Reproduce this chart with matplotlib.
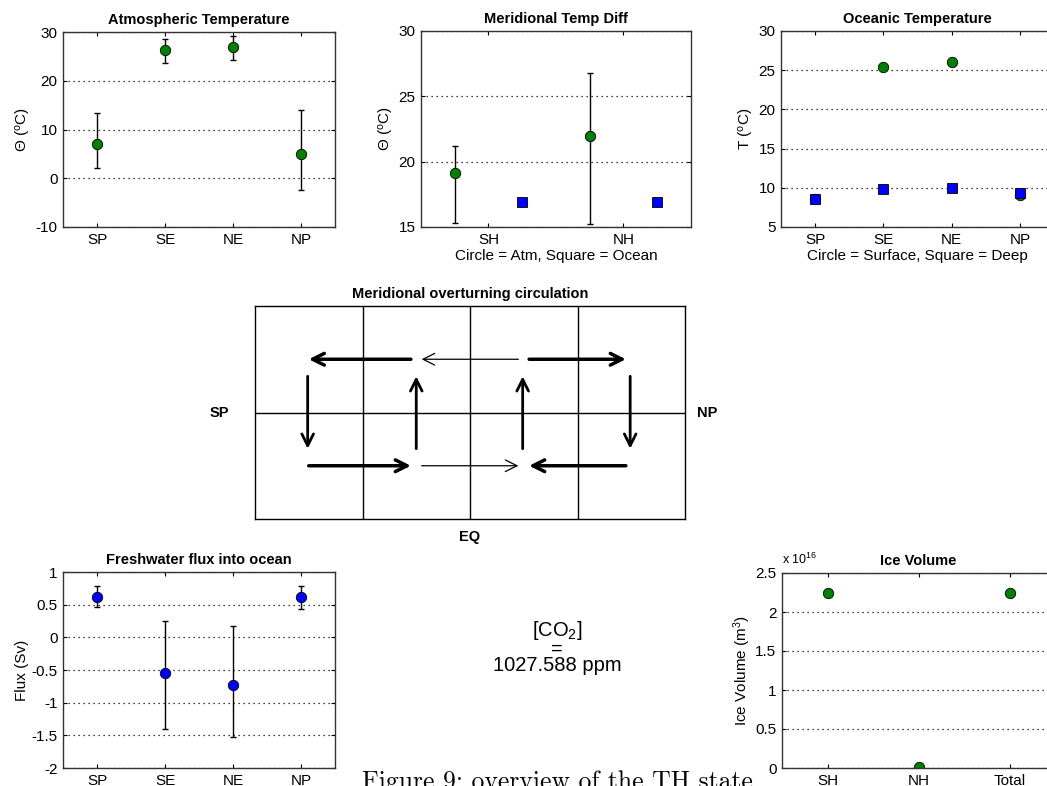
import matplotlib
matplotlib.use('Agg')
import matplotlib.pyplot as plt

plt.rcParams['font.family'] = ['Liberation Sans', 'DejaVu Sans']
plt.rcParams['mathtext.fontset'] = 'custom'
plt.rcParams['mathtext.rm'] = 'Liberation Sans'
plt.rcParams['mathtext.it'] = 'Liberation Sans:italic'
plt.rcParams['axes.unicode_minus'] = False

# ---- data ----
regions = ['SP', 'SE', 'NE', 'NP']
atm_temp = [7.1, 26.3, 27.0, 4.9]
atm_lo = [2.2, 23.6, 24.2, -2.5]
atm_hi = [13.4, 28.6, 29.1, 14.0]

hemis = ['SH', 'NH']
dtemp_atm = [19.1, 22.0]
dtemp_atm_lo = [15.3, 15.2]
dtemp_atm_hi = [21.2, 26.8]
dtemp_ocn = [16.95, 16.95]

ocn_surf = [8.6, 25.4, 26.1, 9.1]
ocn_deep = [8.6, 9.8, 9.95, 9.35]

flux = [0.62, -0.54, -0.73, 0.62]
flux_lo = [0.46, -1.40, -1.53, 0.43]
flux_hi = [0.78, 0.25, 0.18, 0.78]

ice_labels = ['SH', 'NH', 'Total']
ice_vol = [2.25e16, 0.01e16, 2.25e16]

co2_ppm = 1027.588

# overturning arrows: start x, start y, end x, end y, width
moc_x0 = [1.45, 2.45, 2.55, 0.50, 1.55, 3.45, 0.49, 1.50, 2.49, 3.49]
moc_y0 = [1.50, 1.50, 1.50, 0.50, 0.50, 0.50, 1.34, 0.66, 0.66, 1.34]
moc_x1 = [0.50, 1.55, 3.45, 1.45, 2.45, 2.55, 0.49, 1.50, 2.49, 3.49]
moc_y1 = [1.50, 1.50, 1.50, 0.50, 0.50, 0.50, 0.66, 1.34, 1.34, 0.66]
moc_w = [2.5, 0.9, 2.5, 2.5, 0.9, 2.5, 2.0, 2.0, 2.0, 2.0]

W, H = 1047, 786
green = (0, 0.5, 0)
blue = (0, 0, 1)
fs = 11
ms = 7.5


def px_axes(left, top, width, height):
    return fig.add_axes([left / W, 1 - (top + height) / H, width / W, height / H])


def style(ax, title):
    ax.set_title(title, fontsize=10.5, fontweight='bold', pad=6)
    ax.tick_params(direction='in', top=True, right=True, length=3,
                   labelsize=fs, pad=4)
    ax.yaxis.grid(True, linestyle=(0, (1, 3)), color='k', linewidth=0.9)
    ax.set_axisbelow(True)
    for s in ax.spines.values():
        s.set_linewidth(1.0)
        s.set_color('#333333')


def errs(vals, lo, hi):
    return [[v - l for v, l in zip(vals, lo)], [h - v for v, h in zip(vals, hi)]]


fig = plt.figure(figsize=(W / 100, H / 100), dpi=100)

# atmospheric temperature
ax1 = px_axes(63, 32, 272, 195)
x = [1, 2, 3, 4]
ax1.errorbar(x, atm_temp, yerr=errs(atm_temp, atm_lo, atm_hi),
             fmt='none', ecolor='k', elinewidth=1, capsize=2.5)
ax1.plot(x, atm_temp, 'o', color=green, mec='k', mew=0.6, ms=ms)
ax1.set_xlim(0.5, 4.5)
ax1.set_ylim(-10, 30)
ax1.set_yticks([-10, 0, 10, 20, 30])
ax1.set_xticks(x)
ax1.set_xticklabels(regions)
ax1.set_ylabel(r'$\Theta$ ($^{\rm o}$C)', fontsize=fs, labelpad=2)
style(ax1, 'Atmospheric Temperature')

# meridional temperature difference
ax2 = px_axes(421, 31, 270, 196)
xh = [1, 2]
xa = [v - 0.25 for v in xh]
xo = [v + 0.25 for v in xh]
ax2.errorbar(xa, dtemp_atm, yerr=errs(dtemp_atm, dtemp_atm_lo, dtemp_atm_hi),
             fmt='none', ecolor='k', elinewidth=1, capsize=2.5)
ax2.plot(xa, dtemp_atm, 'o', color=green, mec='k', mew=0.6, ms=ms)
ax2.plot(xo, dtemp_ocn, 's', color=blue, mec='k', mew=0.6, ms=ms)
ax2.set_xlim(0.5, 2.5)
ax2.set_ylim(15, 30)
ax2.set_yticks([15, 20, 25, 30])
ax2.set_xticks(xh)
ax2.set_xticklabels(hemis)
ax2.set_ylabel(r'$\Theta$ ($^{\rm o}$C)', fontsize=fs, labelpad=2)
ax2.set_xlabel('Circle = Atm, Square = Ocean', fontsize=fs, labelpad=2)
style(ax2, 'Meridional Temp Diff')

# oceanic temperature
ax3 = px_axes(781, 31, 273, 196)
ax3.plot(x, ocn_surf, 'o', color=green, mec='k', mew=0.6, ms=ms)
ax3.plot(x, ocn_deep, 's', color=blue, mec='k', mew=0.6, ms=ms)
ax3.set_xlim(0.5, 4.5)
ax3.set_ylim(5, 30)
ax3.set_yticks([5, 10, 15, 20, 25, 30])
ax3.set_xticks(x)
ax3.set_xticklabels(regions)
ax3.set_ylabel(r'T ($^{\rm o}$C)', fontsize=fs, labelpad=2)
ax3.set_xlabel('Circle = Surface, Square = Deep', fontsize=fs, labelpad=2)
style(ax3, 'Oceanic Temperature')

# meridional overturning circulation
ax4 = px_axes(255, 306, 430, 213)
ax4.set_xlim(0, 4)
ax4.set_ylim(0, 2)
ax4.set_xticks([])
ax4.set_yticks([])
for v in [1, 2, 3]:
    ax4.axvline(v, color='k', lw=1)
ax4.axhline(1, color='k', lw=1)
for s in ax4.spines.values():
    s.set_linewidth(1.0)
for i in range(len(moc_x0)):
    ax4.annotate('', xy=(moc_x1[i], moc_y1[i]), xytext=(moc_x0[i], moc_y0[i]),
                 arrowprops=dict(arrowstyle='->,head_length=0.7,head_width=0.35',
                                 lw=moc_w[i], color='k', shrinkA=0, shrinkB=0,
                                 mutation_scale=12))
ax4.set_title('Meridional overturning circulation', fontsize=10.5,
              fontweight='bold', pad=6)
ax4.text(-0.33, 1, 'SP', fontsize=10.5, fontweight='bold', ha='center',
         va='center', clip_on=False)
ax4.text(4.21, 1, 'NP', fontsize=10.5, fontweight='bold', ha='center',
         va='center', clip_on=False)
ax4.text(2, -0.17, 'EQ', fontsize=10.5, fontweight='bold', ha='center',
         va='center', clip_on=False)

# freshwater flux
ax5 = px_axes(63, 572, 272, 196)
ax5.errorbar(x, flux, yerr=errs(flux, flux_lo, flux_hi),
             fmt='none', ecolor='k', elinewidth=1, capsize=2.5)
ax5.plot(x, flux, 'o', color=blue, mec='k', mew=0.6, ms=ms)
ax5.set_xlim(0.5, 4.5)
ax5.set_ylim(-2, 1)
ax5.set_yticks([-2, -1.5, -1, -0.5, 0, 0.5, 1])
ax5.set_yticklabels(['-2', '-1.5', '-1', '-0.5', '0', '0.5', '1'])
ax5.set_xticks(x)
ax5.set_xticklabels(regions)
ax5.set_ylabel('Flux (Sv)', fontsize=fs, labelpad=2)
style(ax5, 'Freshwater flux into ocean')

# ice volume
ax6 = px_axes(782, 573, 273, 195)
xi = [1, 2, 3]
ax6.plot(xi, ice_vol, 'o', color=green, mec='k', mew=0.6, ms=ms)
ax6.set_xlim(0.5, 3.5)
ax6.set_ylim(0, 2.5e16)
yt = [0, 0.5e16, 1e16, 1.5e16, 2e16, 2.5e16]
ax6.set_yticks(yt)
ax6.set_yticklabels(['0', '0.5', '1', '1.5', '2', '2.5'])
ax6.set_xticks(xi)
ax6.set_xticklabels(ice_labels)
ax6.set_ylabel(r'Ice Volume (m$^3$)', fontsize=fs, labelpad=2)
ax6.text(0.0, 1.03, r'x 10$^{16}$', transform=ax6.transAxes, fontsize=9,
         ha='left', va='bottom')
style(ax6, 'Ice Volume')

# CO2 text
fig.text(557 / W, 1 - 647 / H, '[CO$_2$]\n=\n%.3f ppm' % co2_ppm, fontsize=14.5,
         ha='center', va='center', linespacing=0.85, multialignment='center')

# caption (cut off at bottom in the reference)
fig.text(362 / W, 1 - 789 / H, 'Figure 9: overview of the TH state',
         fontsize=18.5, family='cmr10', ha='left', va='baseline')

fig.savefig('out.png', dpi=100)
